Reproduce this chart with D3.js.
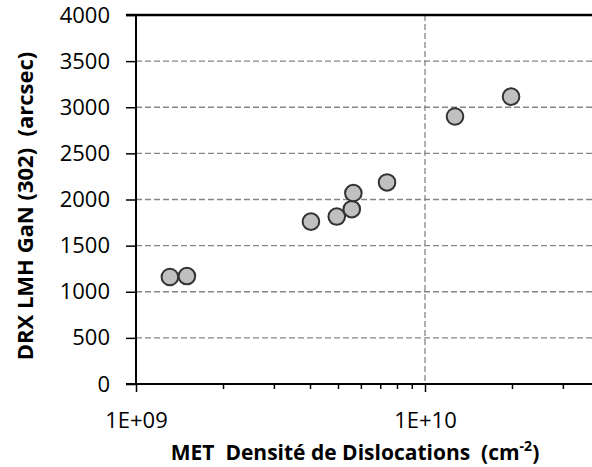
<!DOCTYPE html>
<html><head><meta charset="utf-8">
<script src="https://cdn.jsdelivr.net/npm/d3@7"></script>
<style>body{margin:0;background:#fff}svg{display:block}text{font-family:"Open Sans",sans-serif}</style>
</head><body><svg id="c" width="592" height="467"></svg>
<script>
const xValues = [1.31e9, 1.5e9, 4.03e9, 4.95e9, 5.58e9, 5.65e9, 7.39e9, 1.27e10, 1.985e10];
const yValues = [1160, 1170, 1760, 1815, 1895, 2070, 2185, 2900, 3115];
const yTicks = [0, 500, 1000, 1500, 2000, 2500, 3000, 3500, 4000];
const xMajorTicks = [1e9, 1e10];
const xMinorTicks = [2e9,3e9,4e9,5e9,6e9,7e9,8e9,9e9,2e10,3e10];
const xLabels = ["1E+09", "1E+10"];

(function(){
const svg = d3.select("#c");
const pl = 136, pb = 384, pt = 15;
const decade = 289;
const x = d3.scaleLog().domain([1e9, 4e10]).range([pl, pl + decade * Math.log10(40)]);
const y = d3.scaleLinear().domain([0, 4000]).range([pb, pt]);
const W = 592;

// gridlines
svg.append("g").selectAll("line").data(yTicks.filter(d => d > 0 && d < 4000)).join("line")
  .attr("x1", pl).attr("x2", W).attr("y1", d => y(d)).attr("y2", d => y(d))
  .attr("stroke", "#868686").attr("stroke-width", 1.3).attr("stroke-dasharray", "6,3");
svg.append("line").attr("x1", x(1e10)).attr("x2", x(1e10)).attr("y1", pt).attr("y2", pb)
  .attr("stroke", "#868686").attr("stroke-width", 1.3).attr("stroke-dasharray", "6,3");

// y axis
const yAxis = d3.axisLeft(y).tickValues(yTicks).tickSize(10).tickPadding(16).tickFormat(d3.format("d"));
const gy = svg.append("g").attr("transform", `translate(${pl},0)`).call(yAxis);
gy.select(".domain").attr("stroke", "#000").attr("stroke-width", 2).attr("d", `M0,${pt}V${pb}`);
gy.selectAll(".tick line").attr("stroke", "#000").attr("stroke-width", 1.5);
gy.selectAll(".tick text").attr("font-size", 22).attr("fill", "#000").attr("font-family", "Open Sans");

// x axis
const xAxis = d3.axisBottom(x).tickValues(xMajorTicks).tickSize(8).tickPadding(20)
  .tickFormat((d, i) => xLabels[i]);
const gx = svg.append("g").attr("transform", `translate(0,${pb})`).call(xAxis);
gx.select(".domain").attr("stroke", "#000").attr("stroke-width", 2).attr("d", `M${pl - 10},0H${W}`);
gx.selectAll(".tick line").attr("stroke", "#000").attr("stroke-width", 1.5);
gx.selectAll(".tick text").attr("font-size", 22).attr("fill", "#000").attr("font-family", "Open Sans");
const xMinor = d3.axisBottom(x).tickValues(xMinorTicks).tickSize(5).tickFormat("");
const gm = svg.append("g").attr("transform", `translate(0,${pb})`).call(xMinor);
gm.select(".domain").remove();
gm.selectAll(".tick line").attr("stroke", "#000").attr("stroke-width", 1.5);

// top border
svg.append("line").attr("x1", pl - 10).attr("x2", W).attr("y1", pt).attr("y2", pt)
  .attr("stroke", "#000").attr("stroke-width", 2.5);

// points
svg.append("g").selectAll("circle").data(xValues.map((v, i) => [v, yValues[i]])).join("circle")
  .attr("cx", d => x(d[0])).attr("cy", d => y(d[1])).attr("r", 8.3)
  .attr("fill", "#c0c0c0").attr("stroke", "#333").attr("stroke-width", 2);

// titles
const xt = svg.append("text").attr("x", 355).attr("y", 460).attr("text-anchor", "middle")
  .attr("font-size", 21).attr("font-weight", "bold").attr("fill", "#000");
xt.append("tspan").text("MET\u00a0 Densité de Dislocations\u00a0 (cm");
xt.append("tspan").attr("dy", -9).attr("font-size", 14).text("-2");
xt.append("tspan").attr("dy", 9).text(")");

svg.append("text").attr("transform", "translate(33,206) rotate(-90)").attr("text-anchor", "middle")
  .attr("font-size", 22).attr("font-weight", "bold").attr("fill", "#000")
  .text("DRX LMH GaN (302)\u00a0 (arcsec)");
})();
</script></body></html>
